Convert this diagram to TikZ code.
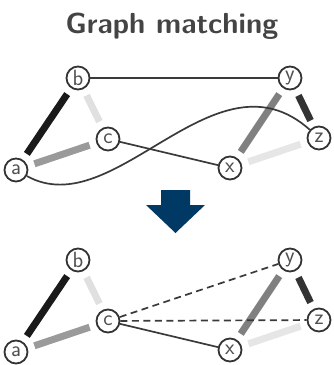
\documentclass[tikz,border=0pt]{standalone}
\usepackage{fontspec}
\definecolor{titlegray}{HTML}{444444}
\definecolor{vtxline}{HTML}{333333}
\definecolor{labelgray}{HTML}{505050}
\definecolor{thinline}{HTML}{3A3A3A}
\definecolor{navy}{RGB}{0,57,99}
\definecolor{wblack}{HTML}{1A1A1A}
\definecolor{wdark}{HTML}{333333}
\definecolor{wmid}{HTML}{808080}
\definecolor{wgray}{HTML}{9A9A9A}
\definecolor{wlight}{HTML}{E0E0E0}
\definecolor{wpale}{HTML}{E6E6E6}
\begin{document}
\begin{tikzpicture}[x=1pt,y=-1pt,
  vtx/.style={circle, draw=vtxline, line width=1.8pt, fill=white,
    minimum size=23pt, inner sep=0pt, text=labelgray,
    font=\fontsize{22}{22}\selectfont\sffamily},
  weighted/.style={line width=7pt, line cap=butt, shorten <=7pt, shorten >=7pt},
  thin/.style={draw=thinline, line width=1.7pt},
  dashedlink/.style={thin, dash pattern=on 7pt off 4.5pt},
  titletext/.style={text=titlegray, font=\fontsize{29}{29}\selectfont\sffamily\bfseries}]
  \useasboundingbox (0,0) rectangle (334,365);

  % title
  \node[titletext, anchor=base] (title) at (172,33) {Graph matching};

  % ---- first graph ----
  \node[vtx] (a1) at (16,170) {a};
  \node[vtx] (b1) at (78,78) {b};
  \node[vtx] (c1) at (108,139) {c};
  \node[vtx] (x1) at (230,168) {x};
  \node[vtx] (y1) at (290,78) {y};
  \node[vtx] (z1) at (319,138) {z};
  \draw[weighted, draw=wblack] (a1) -- (b1);
  \draw[weighted, draw=wlight] (b1) -- (c1);
  \draw[weighted, draw=wgray]  (a1) -- (c1);
  \draw[weighted, draw=wmid]   (x1) -- (y1);
  \draw[weighted, draw=wdark]  (y1) -- (z1);
  \draw[weighted, draw=wpale]  (x1) -- (z1);
  \draw[thin] (b1) -- (y1);
  \draw[thin] (c1) -- (x1);
  \draw[thin] (a1) .. controls (115,225) and (215,45) .. (z1);

  % ---- arrow ----
  \fill[navy] (161,190) -- (190,190) -- (190,205) -- (205,205) -- (175.5,233)
    -- (146,205) -- (161,205) -- cycle;

  % ---- second graph ----
  \node[vtx] (a2) at (16,352) {a};
  \node[vtx] (b2) at (78,260) {b};
  \node[vtx] (c2) at (108,321) {c};
  \node[vtx] (x2) at (230,350) {x};
  \node[vtx] (y2) at (290,260) {y};
  \node[vtx] (z2) at (319,320) {z};
  \draw[weighted, draw=wblack] (a2) -- (b2);
  \draw[weighted, draw=wlight] (b2) -- (c2);
  \draw[weighted, draw=wgray]  (a2) -- (c2);
  \draw[weighted, draw=wmid]   (x2) -- (y2);
  \draw[weighted, draw=wdark]  (y2) -- (z2);
  \draw[weighted, draw=wpale]  (x2) -- (z2);
  \draw[thin] (c2) -- (x2);
  \draw[dashedlink] (c2) -- (y2);
  \draw[dashedlink] (c2) -- (z2);
\end{tikzpicture}
\end{document}
